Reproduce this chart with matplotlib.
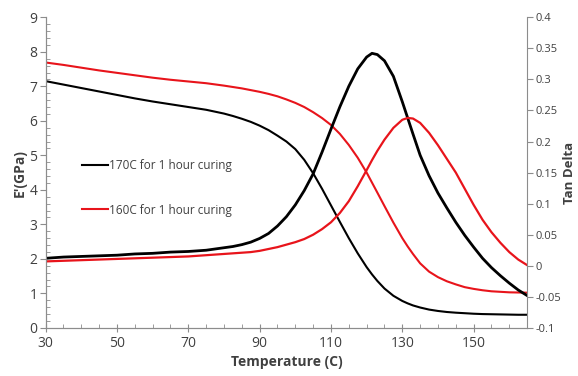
import matplotlib
matplotlib.use("Agg")
import matplotlib.pyplot as plt
from matplotlib.ticker import FixedLocator, MultipleLocator

# Temperature grid (C)
temp = [30, 35, 40, 45, 50, 55, 60, 65, 70, 75, 80, 82.5, 85, 87.5, 90, 92.5, 95,
        97.5, 100, 102.5, 105, 107.5, 110, 112.5, 115, 117.5, 120, 121.5, 123,
        125, 127.5, 130, 131.5, 133, 135, 137.5, 140, 142.5, 145, 147.5, 150,
        152.5, 155, 157.5, 160, 162.5, 165]

# Storage modulus E' (GPa)
e_170 = [7.15, 7.05, 6.95, 6.85, 6.75, 6.65, 6.56, 6.48, 6.40, 6.32, 6.21, 6.14,
         6.06, 5.97, 5.86, 5.73, 5.57, 5.40, 5.18, 4.87, 4.48, 4.03, 3.55, 3.07,
         2.60, 2.16, 1.76, 1.55, 1.36, 1.14, 0.93, 0.78, 0.71, 0.65, 0.59, 0.53,
         0.49, 0.46, 0.44, 0.425, 0.41, 0.40, 0.395, 0.39, 0.385, 0.38, 0.38]
e_160 = [7.69, 7.62, 7.54, 7.46, 7.39, 7.32, 7.25, 7.19, 7.14, 7.09, 7.02, 6.98,
         6.94, 6.89, 6.84, 6.78, 6.71, 6.62, 6.52, 6.40, 6.25, 6.08, 5.88, 5.62,
         5.30, 4.93, 4.50, 4.21, 3.92, 3.53, 3.05, 2.60, 2.36, 2.14, 1.87, 1.63,
         1.47, 1.35, 1.26, 1.18, 1.13, 1.09, 1.06, 1.045, 1.03, 1.025, 1.02]

# Tan delta
tan_170 = [0.012, 0.014, 0.015, 0.016, 0.017, 0.019, 0.020, 0.022, 0.023, 0.025,
           0.029, 0.031, 0.034, 0.038, 0.044, 0.052, 0.064, 0.079, 0.098, 0.121,
           0.148, 0.183, 0.220, 0.256, 0.289, 0.317, 0.336, 0.342, 0.340, 0.330,
           0.305, 0.264, 0.238, 0.212, 0.178, 0.145, 0.117, 0.093, 0.070, 0.049,
           0.030, 0.012, -0.003, -0.016, -0.028, -0.039, -0.048]
tan_160 = [0.007, 0.008, 0.009, 0.010, 0.011, 0.012, 0.013, 0.014, 0.015, 0.017,
           0.019, 0.020, 0.021, 0.022, 0.024, 0.027, 0.030, 0.034, 0.038, 0.043,
           0.050, 0.059, 0.070, 0.085, 0.104, 0.128, 0.154, 0.170, 0.185, 0.203,
           0.222, 0.235, 0.238, 0.237, 0.230, 0.214, 0.194, 0.172, 0.150, 0.124,
           0.098, 0.074, 0.054, 0.037, 0.022, 0.010, 0.001]

x_ticks = [30, 50, 70, 90, 110, 130, 150]
labels = ["170C for 1 hour curing", "160C for 1 hour curing"]

plt.rcParams['font.family'] = ['Open Sans', 'DejaVu Sans']
txt = '#404040'
spine = '#8c8c8c'

fig = plt.figure(figsize=(5.78, 3.76), dpi=100)
ax = fig.add_axes([0.079, 0.128, 0.833, 0.826])
ax2 = ax.twinx()

l1, = ax.plot(temp, e_170, color='black', lw=1.5, label=labels[0])
l2, = ax.plot(temp, e_160, color='#e8141b', lw=1.5, label=labels[1])
ax2.plot(temp, tan_170, color='black', lw=2.0)
ax2.plot(temp, tan_160, color='#e8141b', lw=1.6)

ax.set_xlim(30, 165)
ax.set_ylim(0, 9)
ax2.set_ylim(-0.1, 0.4)

ax.xaxis.set_major_locator(FixedLocator(x_ticks))
ax.xaxis.set_minor_locator(MultipleLocator(5))
ax.yaxis.set_major_locator(MultipleLocator(1))
ax.yaxis.set_minor_locator(MultipleLocator(0.2))
ax2.yaxis.set_major_locator(MultipleLocator(0.05))

for a in (ax, ax2):
    for s in a.spines.values():
        s.set_color(spine)
    a.spines['top'].set_visible(False)
ax.spines['right'].set_visible(False)

ax.tick_params(axis='x', which='major', direction='inout', length=6, color=spine,
               labelsize=10, labelcolor=txt, pad=3)
ax.tick_params(axis='x', which='minor', direction='in', length=3, color=spine)
ax.tick_params(axis='y', which='major', direction='out', length=4, color=spine,
               labelsize=10, labelcolor=txt, pad=2)
ax.tick_params(axis='y', which='minor', direction='in', length=3, color=spine)
ax2.tick_params(axis='y', which='major', direction='out', length=4, color=spine,
                labelsize=8, labelcolor=txt, pad=2)

ax2.set_yticks(ax2.get_yticks())
ax2.set_yticklabels([f"{v:g}" for v in ax2.get_yticks()])
ax2.set_ylim(-0.1, 0.4)

ax.set_xlabel("Temperature (C)", fontsize=10, fontweight='bold', color=txt, labelpad=3)
ax.set_ylabel("E'(GPa)", fontsize=10, fontweight='bold', color=txt, labelpad=2)
ax2.set_ylabel("Tan Delta", fontsize=9.5, fontweight='bold', color=txt, labelpad=1)

leg = ax.legend(handles=[l1, l2], loc='upper left', bbox_to_anchor=(0.065, 0.56),
                frameon=False, fontsize=8.5, labelspacing=2.7, handlelength=2.2,
                handletextpad=0.15, borderaxespad=0)
for t in leg.get_texts():
    t.set_color(txt)

fig.savefig("out.png", dpi=100)
